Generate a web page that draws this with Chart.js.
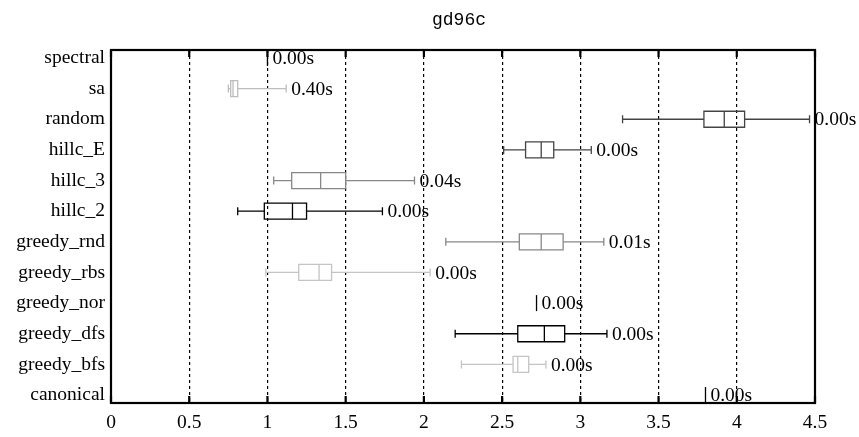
<!DOCTYPE html>
<html><head><meta charset="utf-8">
<script src="https://cdn.jsdelivr.net/npm/chart.js@4/dist/chart.umd.min.js"></script>
<style>html,body{margin:0;padding:0;background:#fff}#wrap{width:859px;height:437px}</style>
</head><body><div id="wrap"><canvas id="c" width="859" height="437"></canvas></div>
<script>
const title = "gd96c";
const categories = ["spectral","sa","random","hillc_E","hillc_3","hillc_2","greedy_rnd","greedy_rbs","greedy_nor","greedy_dfs","greedy_bfs","canonical"];
const whiskerMin = [1.00, 0.75, 3.27, 2.51, 1.04, 0.81, 2.14, 0.99, 2.72, 2.20, 2.24, 3.80];
const q1Values   = [1.00, 0.765, 3.79, 2.65, 1.155, 0.98, 2.61, 1.20, 2.72, 2.60, 2.57, 3.80];
const medians    = [1.00, 0.78, 3.92, 2.75, 1.34, 1.16, 2.75, 1.33, 2.72, 2.77, 2.60, 3.80];
const q3Values   = [1.00, 0.81, 4.05, 2.83, 1.50, 1.25, 2.89, 1.41, 2.72, 2.90, 2.67, 3.80];
const whiskerMax = [1.00, 1.12, 4.465, 3.07, 1.94, 1.735, 3.15, 2.04, 2.72, 3.17, 2.78, 3.80];
const timeLabels = ["0.00s","0.40s","0.00s","0.00s","0.04s","0.00s","0.01s","0.00s","0.00s","0.00s","0.00s","0.00s"];
const seriesColors = ["#000000","#bdbdbd","#444444","#444444","#888888","#000000","#888888","#c4c4c4","#000000","#000000","#c4c4c4","#000000"];
const xTicks = [0,0.5,1,1.5,2,2.5,3,3.5,4,4.5];

const SERIF = "'Liberation Serif','DejaVu Serif',serif";

const boxPlugin = {
  id: 'boxes',
  afterDatasetsDraw(chart) {
    const ctx = chart.ctx, xs = chart.scales.x, ys = chart.scales.y;
    const ca = chart.chartArea;
    ctx.save();
    categories.forEach((c, i) => {
      const y = ys.getPixelForValue(i);
      const col = seriesColors[i];
      const xmin = xs.getPixelForValue(whiskerMin[i]);
      const xmax = xs.getPixelForValue(whiskerMax[i]);
      const x1 = xs.getPixelForValue(q1Values[i]);
      const x3 = xs.getPixelForValue(q3Values[i]);
      const xm = xs.getPixelForValue(medians[i]);
      ctx.strokeStyle = col; ctx.lineWidth = 1.3;
      const hb = 8, hc = 4;
      if (whiskerMax[i] - whiskerMin[i] < 1e-6) {
        ctx.beginPath(); ctx.moveTo(xm, y - hb); ctx.lineTo(xm, y + hb); ctx.stroke();
      } else {
        ctx.beginPath();
        ctx.moveTo(xmin, y); ctx.lineTo(x1, y);
        ctx.moveTo(x3, y); ctx.lineTo(xmax, y);
        ctx.moveTo(xmin, y - hc); ctx.lineTo(xmin, y + hc);
        ctx.moveTo(xmax, y - hc); ctx.lineTo(xmax, y + hc);
        ctx.stroke();
        ctx.beginPath();
        ctx.rect(x1, y - hb, x3 - x1, 2 * hb);
        ctx.moveTo(xm, y - hb); ctx.lineTo(xm, y + hb);
        ctx.stroke();
      }
      ctx.fillStyle = '#000';
      ctx.font = "19.5px " + SERIF;
      ctx.textAlign = 'left'; ctx.textBaseline = 'middle';
      ctx.fillText(timeLabels[i], xmax + 5, y + 1);
    });
    ctx.strokeStyle = '#000'; ctx.lineWidth = 2.2;
    ctx.strokeRect(ca.left, ca.top, ca.right - ca.left, ca.bottom - ca.top);
    xTicks.forEach(v => {
      const x = xs.getPixelForValue(v);
      ctx.beginPath();
      ctx.moveTo(x, ca.top); ctx.lineTo(x, ca.top + 7);
      ctx.moveTo(x, ca.bottom); ctx.lineTo(x, ca.bottom - 7);
      ctx.stroke();
    });
    ctx.fillStyle = '#000';
    ctx.font = "18px 'Liberation Mono','DejaVu Sans Mono',monospace";
    ctx.textAlign = 'center'; ctx.textBaseline = 'middle';
    ctx.fillText(title, 459, 20);
    ctx.restore();
  }
};

new Chart(document.getElementById('c'), {
  type: 'scatter',
  data: { datasets: [{ data: medians.map((m, i) => ({x: m, y: i})), pointRadius: 0, showLine: false }] },
  options: {
    responsive: false, animation: false, devicePixelRatio: 1,
    layout: { padding: { top: 50, right: 44, left: 0, bottom: 0 } },
    plugins: { legend: { display: false }, tooltip: { enabled: false } },
    scales: {
      x: {
        type: 'linear', min: 0, max: 4.5,
        afterBuildTicks: s => { s.ticks = xTicks.map(v => ({value: v})); },
        afterFit: s => { s.height = 34; },
        grid: {
          drawTicks: false,
          color: ctx => (ctx.tick && (ctx.tick.value === 0 || ctx.tick.value === 4.5)) ? 'rgba(0,0,0,0)' : '#000',
          lineWidth: 1.2
        },
        border: { display: false, dash: [3, 3] },
        ticks: { color: '#000', font: { family: SERIF, size: 19.5 }, padding: 8, maxRotation: 0,
                 callback: v => String(v) }
      },
      y: {
        type: 'linear', min: -0.26, max: 11.26, reverse: true,
        afterBuildTicks: s => { s.ticks = categories.map((c, i) => ({value: i})); },
        afterFit: s => { s.width = 111; },
        grid: { display: false, drawTicks: false },
        border: { display: false },
        ticks: { color: '#000', font: { family: SERIF, size: 19.5 }, padding: 6,
                 callback: v => categories[v] }
      }
    }
  },
  plugins: [boxPlugin]
});
</script></body></html>
